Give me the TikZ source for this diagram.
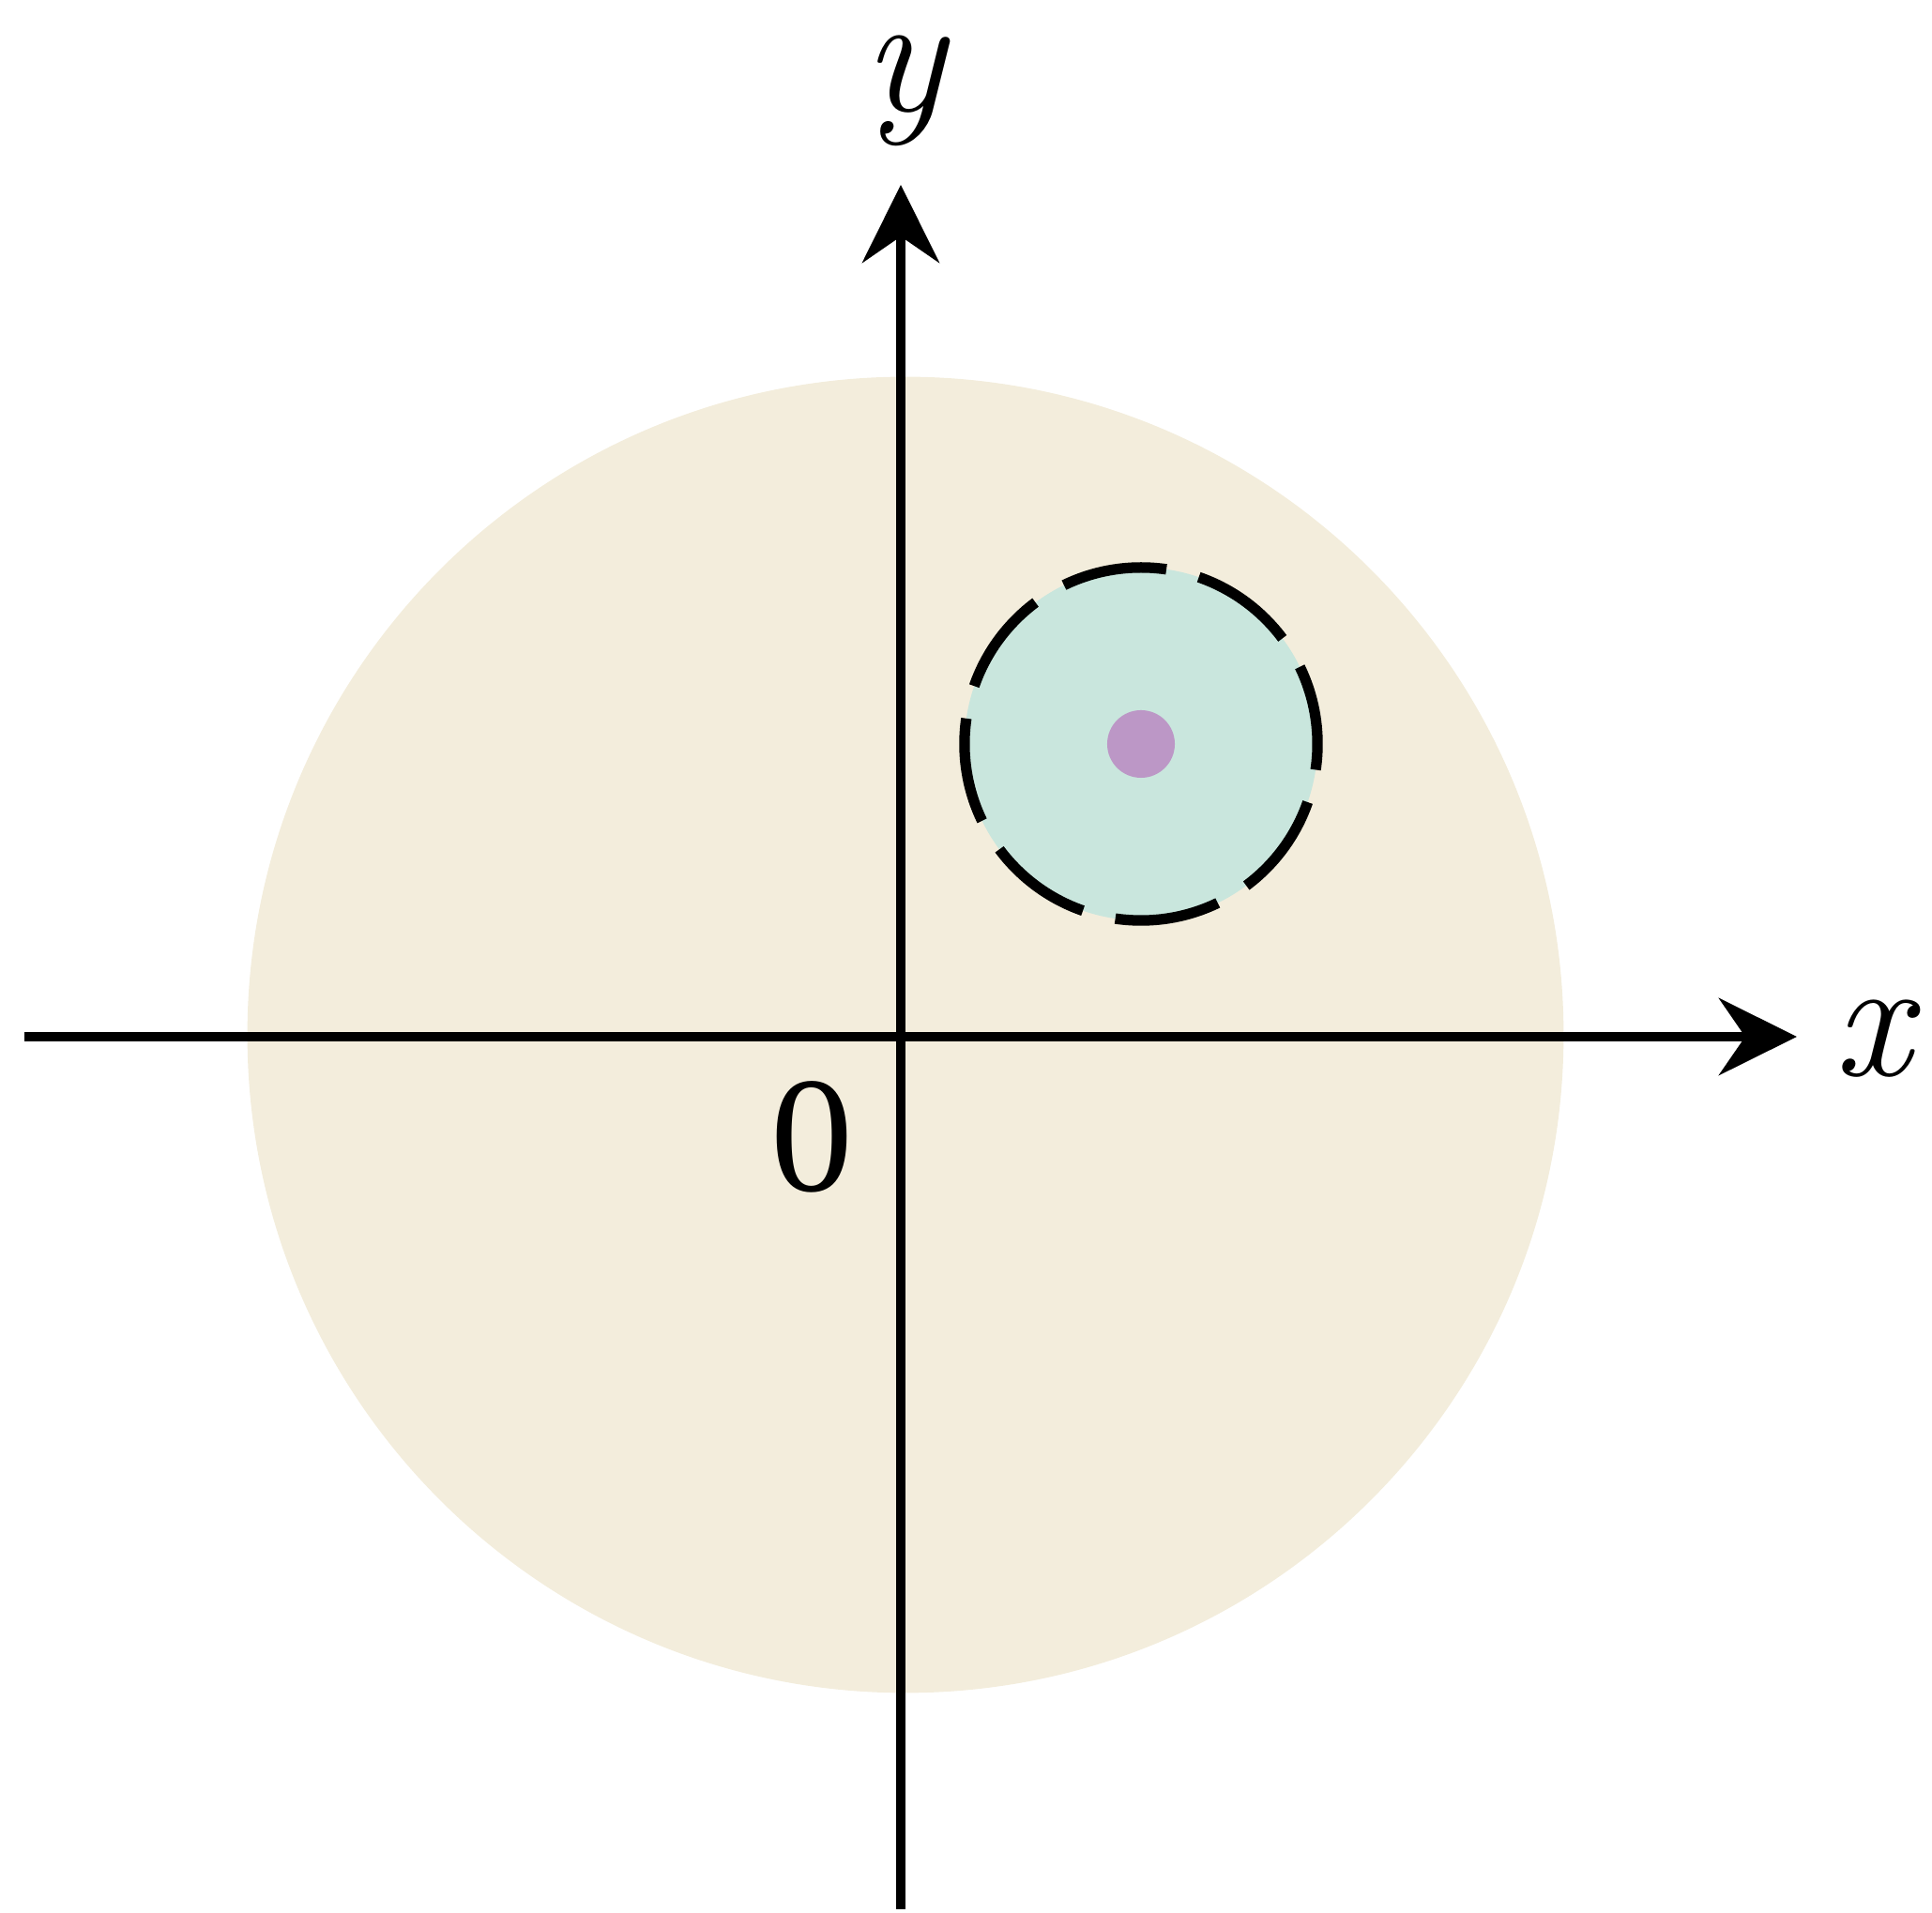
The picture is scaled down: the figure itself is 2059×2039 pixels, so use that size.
\documentclass[tikz,border=0pt]{standalone}
\usepackage{fontspec}
\setmainfont{Liberation Serif}
\newfontfamily\lmfont{Latin Modern Roman}
\usetikzlibrary{arrows.meta}
\definecolor{beige}{HTML}{F3EDDC}
\definecolor{teal1}{HTML}{C9E6DD}
\definecolor{violet1}{HTML}{BC97C6}
\begin{document}
\begin{tikzpicture}[x=0.01cm,y=0.01cm,
  axis/.style={line width=2.8pt,-{Stealth[length=8.3mm,width=8.2mm,inset=2.8mm]}},
  lab/.style={inner sep=0pt,font=\fontsize{50}{56}\selectfont},
  vlab/.style={inner sep=0pt,font=\lmfont\itshape\fontsize{52}{60}\selectfont},
  ring/.style={line width=3.2pt,dash pattern=on 1.12cm off 0.356cm,dash phase=0.27cm}]
\useasboundingbox (0,0) rectangle (2059,2039);
\coordinate (bigc) at (965,936);
\coordinate (smallc) at (1216,1246);
\coordinate (xs) at (26,934);
\coordinate (xe) at (1915,934);
\coordinate (ys) at (960,4);
\coordinate (ye) at (960,1842);
\fill[beige] (bigc) circle[radius=7.01cm];
\fill[teal1] (smallc) circle[radius=1.88cm];
\draw[ring] (smallc) circle[radius=1.88cm];
\fill[violet1] (smallc) circle[radius=0.36cm];
\draw[axis] (xs) -- (xe);
\draw[axis] (ys) -- (ye);
\node[vlab] (ylab) at (964,1942) {y};
\node[vlab] (xlab) at (1996,932) {x};
\node[lab,anchor=center] (zero) at (865,827) {0};
\end{tikzpicture}
\end{document}
